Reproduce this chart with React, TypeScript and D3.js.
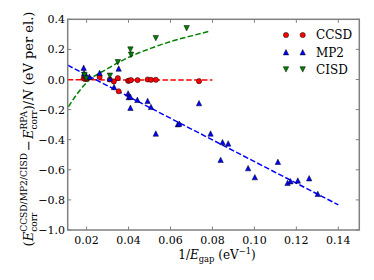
import React, { useEffect, useRef } from "react";
import * as d3 from "d3";

// CCSD points (1/Egap, dE)
const ccsdX = [0.0186, 0.0192, 0.0200, 0.0262, 0.0311, 0.0330, 0.0349, 0.0353, 0.0398, 0.0404, 0.0412, 0.0443, 0.0491, 0.0507, 0.0530, 0.0736];
const ccsdY = [0.007, 0.004, 0.004, 0.016, 0.000, -0.013, 0.009, -0.078, -0.009, -0.007, -0.004, -0.004, 0.000, -0.002, -0.002, -0.011];

// MP2 points
const mp2X = [0.0186, 0.0188, 0.0199, 0.0213, 0.0262, 0.0311, 0.0331, 0.0353, 0.0398, 0.0401, 0.0409, 0.0409, 0.0442, 0.0491, 0.0507, 0.0530, 0.0635, 0.0642, 0.0736, 0.0791, 0.0839, 0.0848, 0.0875, 0.0970, 0.1002, 0.1112, 0.1158, 0.1172, 0.1207, 0.1261, 0.1302];
const mp2Y = [0.078, 0.042, 0.025, 0.018, 0.044, 0.006, -0.050, 0.073, -0.092, -0.117, -0.115, -0.188, -0.135, -0.142, -0.182, -0.359, -0.297, -0.293, -0.157, -0.359, -0.534, -0.416, -0.425, -0.589, -0.649, -0.547, -0.687, -0.676, -0.671, -0.656, -0.760];

// CISD points
const cisdX = [0.0190, 0.0198, 0.0311, 0.0349, 0.0409, 0.0412, 0.0530, 0.0677];
const cisdY = [0.030, 0.005, 0.025, 0.115, 0.199, 0.164, 0.275, 0.341];

// fit lines
const ccsdFitX = [0.011, 0.080];
const ccsdFitY = [-0.002, -0.004];
const mp2FitX = [0.011, 0.140];
const mp2FitY = [0.095, -0.833];
const cisdFitX = [0.0113, 0.015, 0.020, 0.030, 0.040, 0.050, 0.060, 0.070, 0.0785];
const cisdFitY = [-0.182, -0.105, -0.020, 0.072, 0.147, 0.204, 0.252, 0.290, 0.320];

const xTicks = [0.02, 0.04, 0.06, 0.08, 0.10, 0.12, 0.14];
const yTicks = [0.4, 0.2, 0.0, -0.2, -0.4, -0.6, -0.8, -1.0];
const legendLabels = ["CCSD", "MP2", "CISD"];

const FONT = "DejaVu Serif";

type Piece = { t: string; it?: boolean; sc?: number; dy?: number; stack?: boolean; gap?: number };

function mathText(parent: any, pieces: Piece[], size: number) {
  const grp = parent.append("g");
  let x = 0;
  let lastStart = 0;
  pieces.forEach((p) => {
    const fs = size * (p.sc ?? 1);
    const start = p.stack ? lastStart : x + (p.gap ?? 0);
    const t = grp
      .append("text")
      .attr("x", start)
      .attr("y", -(p.dy ?? 0) * size)
      .attr("font-size", fs)
      .attr("font-family", FONT)
      .attr("font-style", p.it ? "italic" : "normal")
      .style("white-space", "pre")
      .text(p.t);
    const w = (t.node() as SVGTextElement).getComputedTextLength();
    if (p.stack) {
      x = Math.max(x, start + w);
    } else {
      lastStart = start;
      x = start + w;
    }
  });
  return { grp, width: x };
}

export default function App() {
  const ref = useRef<SVGSVGElement>(null);

  useEffect(() => {
    const svg = d3.select(ref.current);
    svg.selectAll("*").remove();
    const W = 374, H = 280;
    const m = { left: 67.7, top: 19.3, right: 359.3, bottom: 230 };

    const x = d3.scaleLinear().domain([0.011, 0.15]).range([m.left, m.right]);
    const y = d3.scaleLinear().domain([-1.0, 0.4]).range([m.bottom, m.top]);

    svg.append("rect").attr("width", W).attr("height", H).attr("fill", "#fff");

    const fmt = (v: number) => d3.format(".2f")(v).replace("-", "\u2212");
    const fmtY = (v: number) => d3.format(".1f")(v).replace("-", "\u2212");

    // ticks inside, on all four sides
    const tickLen = 3.5;
    const tg = svg.append("g").attr("stroke", "#808080").attr("stroke-width", 1);
    xTicks.forEach((v) => {
      tg.append("line").attr("x1", x(v)).attr("x2", x(v)).attr("y1", m.bottom).attr("y2", m.bottom - tickLen);
      tg.append("line").attr("x1", x(v)).attr("x2", x(v)).attr("y1", m.top).attr("y2", m.top + tickLen);
    });
    yTicks.forEach((v) => {
      tg.append("line").attr("x1", m.left).attr("x2", m.left + tickLen).attr("y1", y(v)).attr("y2", y(v));
      tg.append("line").attr("x1", m.right).attr("x2", m.right - tickLen).attr("y1", y(v)).attr("y2", y(v));
    });

    svg.append("g").selectAll("text").data(xTicks).enter().append("text")
      .attr("x", (d) => x(d)).attr("y", 243.5)
      .attr("text-anchor", "middle").attr("font-family", FONT).attr("font-size", 11)
      .text((d) => fmt(d));
    svg.append("g").selectAll("text").data(yTicks).enter().append("text")
      .attr("x", 65).attr("y", (d) => y(d) + 4)
      .attr("text-anchor", "end").attr("font-family", FONT).attr("font-size", 11)
      .text((d) => fmtY(d));

    // fit lines
    const line = d3.line<[number, number]>().x((d) => x(d[0])).y((d) => y(d[1]));
    const curve = d3.line<[number, number]>().x((d) => x(d[0])).y((d) => y(d[1])).curve(d3.curveMonotoneX);
    const zip = (a: number[], b: number[]) => a.map((v, i) => [v, b[i]] as [number, number]);
    const dash = "5.5,2.4";
    svg.append("path").attr("d", line(zip(ccsdFitX, ccsdFitY))).attr("fill", "none").attr("stroke", "#ff0000").attr("stroke-width", 1.5).attr("stroke-dasharray", dash);
    svg.append("path").attr("d", line(zip(mp2FitX, mp2FitY))).attr("fill", "none").attr("stroke", "#0000ff").attr("stroke-width", 1.5).attr("stroke-dasharray", dash);
    svg.append("path").attr("d", curve(zip(cisdFitX, cisdFitY))).attr("fill", "none").attr("stroke", "#008000").attr("stroke-width", 1.5).attr("stroke-dasharray", dash);

    const r = 2.7;
    const triUp = `M0,${-r}L${r},${r}L${-r},${r}Z`;
    const triDown = `M0,${r}L${r},${-r}L${-r},${-r}Z`;

    // markers
    svg.append("g").selectAll("circle").data(zip(ccsdX, ccsdY)).enter().append("circle")
      .attr("cx", (d) => x(d[0])).attr("cy", (d) => y(d[1])).attr("r", 2.6)
      .attr("fill", "#ff0000").attr("stroke", "#000").attr("stroke-width", 0.5);
    svg.append("g").selectAll("path").data(zip(mp2X, mp2Y)).enter().append("path")
      .attr("transform", (d) => `translate(${x(d[0])},${y(d[1])})`).attr("d", triUp)
      .attr("fill", "#0000ff").attr("stroke", "#000").attr("stroke-width", 0.5);
    svg.append("g").selectAll("path").data(zip(cisdX, cisdY)).enter().append("path")
      .attr("transform", (d) => `translate(${x(d[0])},${y(d[1])})`).attr("d", triDown)
      .attr("fill", "#008000").attr("stroke", "#000").attr("stroke-width", 0.5);

    // frame
    svg.append("rect").attr("x", m.left).attr("y", m.top)
      .attr("width", m.right - m.left).attr("height", m.bottom - m.top)
      .attr("fill", "none").attr("stroke", "#808080").attr("stroke-width", 1.5);

    // legend
    const lg = svg.append("g");
    legendLabels.forEach((lab, i) => {
      const ly = 35 + i * 17.2;
      [286, 302.7].forEach((lx) => {
        if (i === 0) {
          lg.append("circle").attr("cx", lx).attr("cy", ly).attr("r", 2.6).attr("fill", "#ff0000").attr("stroke", "#000").attr("stroke-width", 0.5);
        } else {
          lg.append("path").attr("transform", `translate(${lx},${ly})`).attr("d", i === 1 ? triUp : triDown)
            .attr("fill", i === 1 ? "#0000ff" : "#008000").attr("stroke", "#000").attr("stroke-width", 0.5);
        }
      });
      lg.append("text").attr("x", 316).attr("y", ly + 4.3).attr("font-family", FONT).attr("font-size", 12).text(lab);
    });

    // x label
    const xl = svg.append("g").attr("transform", "translate(0,259)");
    const xm = mathText(xl, [
      { t: "1/" },
      { t: "E", it: true },
      { t: "gap", sc: 0.7, dy: -0.25 },
      { t: " (eV" },
      { t: "\u22121", sc: 0.7, dy: 0.4 },
      { t: ")" },
    ], 12);
    xm.grp.attr("transform", `translate(${217 - xm.width / 2},0)`);

    // y label
    const yl = svg.append("g").attr("transform", "translate(33,129) rotate(-90)");
    const ym = mathText(yl, [
      { t: "(" },
      { t: "E", it: true },
      { t: "CCSD/MP2/CISD", sc: 0.7, dy: 0.45 },
      { t: "corr", sc: 0.7, dy: -0.3, stack: true },
      { t: "\u2212", gap: 2 },
      { t: "E", it: true, gap: 1 },
      { t: "RPA", sc: 0.7, dy: 0.45 },
      { t: "corr", sc: 0.7, dy: -0.3, stack: true },
      { t: ")/" },
      { t: "N", it: true },
      { t: " (eV per el.)" },
    ], 13);
    ym.grp.attr("transform", `translate(${-ym.width / 2},0)`);
  }, []);

  return <svg ref={ref} width={374} height={280} style={{ position: "absolute", left: 0, top: 0 }} />;
}
